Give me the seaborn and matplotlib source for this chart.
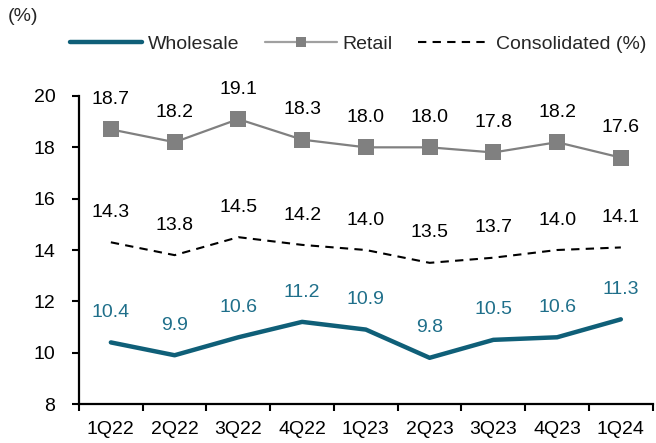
import matplotlib
matplotlib.use("Agg")
import matplotlib.pyplot as plt
import seaborn as sns
import pandas as pd
import numpy as np
from matplotlib.lines import Line2D

quarters = ["1Q22", "2Q22", "3Q22", "4Q22", "1Q23", "2Q23", "3Q23", "4Q23", "1Q24"]
wholesale = [10.4, 9.9, 10.6, 11.2, 10.9, 9.8, 10.5, 10.6, 11.3]
retail = [18.7, 18.2, 19.1, 18.3, 18.0, 18.0, 17.8, 18.2, 17.6]
consolidated = [14.3, 13.8, 14.5, 14.2, 14.0, 13.5, 13.7, 14.0, 14.1]
yticks = [8, 10, 12, 14, 16, 18, 20]

sns.set_theme(style="white")
plt.rcParams["font.family"] = ["Liberation Sans", "DejaVu Sans"]
FS = 14
plt.rcParams["font.size"] = FS

teal = "#0f5f78"
teal_lbl = "#1f6f8a"
grey = "#808080"

fig = plt.figure(figsize=(6.56, 4.43), dpi=100)
ax = fig.add_axes([0.1204, 0.088, 0.995 - 0.1204, 0.7833 - 0.088])

df = pd.DataFrame({"q": quarters, "Wholesale": wholesale, "Retail": retail,
                   "Consolidated": consolidated})

sns.lineplot(data=df, x="q", y="Wholesale", ax=ax, color=teal, lw=3.2, sort=False)
sns.lineplot(data=df, x="q", y="Retail", ax=ax, color=grey, lw=1.6, marker="s",
             markersize=12, markeredgewidth=0, sort=False)
sns.lineplot(data=df, x="q", y="Consolidated", ax=ax, color="black", lw=1.5,
             linestyle=(0, (4, 3)), sort=False)

for i in range(len(quarters)):
    ax.annotate(f"{retail[i]:.1f}", (i, retail[i]), xytext=(0, 21.5), textcoords="offset points",
                ha="center", va="center", fontsize=FS, color="black")
    ax.annotate(f"{consolidated[i]:.1f}", (i, consolidated[i]), xytext=(0, 21.5),
                textcoords="offset points", ha="center", va="center", fontsize=FS, color="black")
    ax.annotate(f"{wholesale[i]:.1f}", (i, wholesale[i]), xytext=(0, 21.5),
                textcoords="offset points", ha="center", va="center", fontsize=FS, color=teal_lbl)

ax.set_xlim(-0.5, len(quarters) - 0.5)
ax.set_ylim(8, 20)
ax.set_yticks(yticks)
ax.set_yticklabels([str(v) for v in yticks])
ax.set_xticks(range(len(quarters)))
ax.set_xticklabels(quarters)
ax.set_xticks(np.arange(-0.5, len(quarters), 1.0), minor=True)
ax.tick_params(axis="x", which="major", length=0, pad=12, labelsize=FS, colors="black")
ax.tick_params(axis="x", which="minor", length=5, width=1.5, color="black", direction="out", bottom=True)
ax.tick_params(axis="y", which="major", length=5, width=1.5, color="black", direction="out",
               left=True, pad=12, labelsize=FS, labelcolor="black")
ax.set_xlabel("")
ax.set_ylabel("")
for s in ["top", "right"]:
    ax.spines[s].set_visible(False)
for s in ["left", "bottom"]:
    ax.spines[s].set_color("black")
    ax.spines[s].set_linewidth(1.6)

fig.text(0.012, 0.963, "(%)", fontsize=FS, ha="left", va="center")

handles = [
    Line2D([], [], color=teal, lw=3.2, solid_capstyle="round"),
    Line2D([], [], color="#a0a0a0", lw=1.6, marker="s", markersize=7.5, markeredgewidth=0,
           markerfacecolor=grey),
    Line2D([], [], color="black", lw=1.5, linestyle=(0, (4, 3))),
]
fig.legend(handles, ["Wholesale", "Retail", "Consolidated (%)"], loc="center left",
           bbox_to_anchor=(0.095, 0.9), ncol=3, frameon=False, fontsize=FS,
           handlelength=3.7, handletextpad=0.3, columnspacing=1.3, borderaxespad=0)

fig.savefig("out.png", dpi=100)
